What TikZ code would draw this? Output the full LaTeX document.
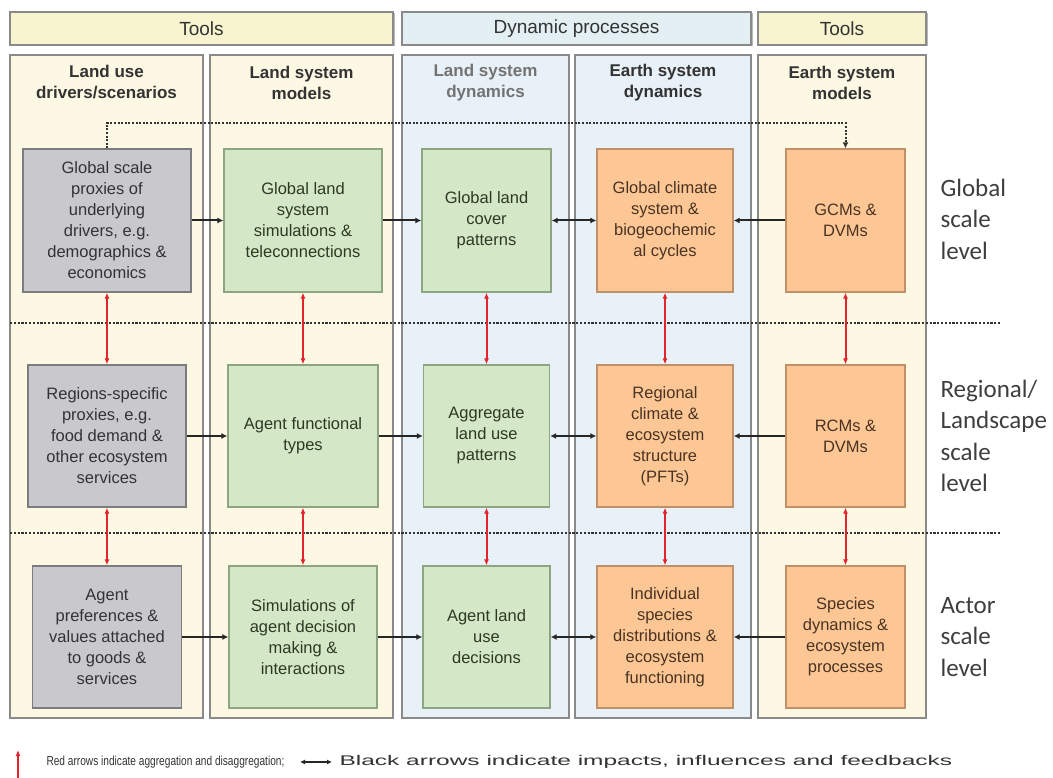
\documentclass[tikz,border=0pt]{standalone}
\usepackage{fontspec}
\setmainfont{Liberation Sans}
\newfontfamily\lvlfont{Carlito}
\newfontfamily\legfontA[FakeStretch=0.78]{Liberation Sans}
\newfontfamily\legfontB[FakeStretch=1.75]{Liberation Sans}
\usetikzlibrary{arrows.meta}

\definecolor{hdrY}{HTML}{F8F4CF}
\definecolor{panY}{HTML}{FDF8E3}
\definecolor{hdrB}{HTML}{E3EFF3}
\definecolor{panB}{HTML}{E8F1F8}
\definecolor{frameC}{HTML}{8A8A8A}
\definecolor{shadowC}{HTML}{B8B8B8}
\definecolor{grayF}{HTML}{C9C9CD}
\definecolor{grayD}{HTML}{7C7C80}
\definecolor{greenF}{HTML}{D4E7C6}
\definecolor{greenD}{HTML}{8DA681}
\definecolor{orangeF}{HTML}{FDC795}
\definecolor{orangeD}{HTML}{C09168}
\definecolor{redA}{HTML}{E2242C}
\definecolor{txtC}{HTML}{333333}
\definecolor{txtG}{HTML}{2C3A24}
\definecolor{txtO}{HTML}{4A3322}
\definecolor{lvlC}{HTML}{3E3E3E}

\tikzset{
  hdr/.style={draw=frameC, line width=1.4pt, font=\fontsize{19}{22}\selectfont, text=txtC},
  panel/.style={draw=frameC, line width=1.4pt},
  colhead/.style={align=center, font=\bfseries\fontsize{17}{21}\selectfont, text=txtC},
  cell/.style={draw, line width=1.3pt, align=center, inner sep=2pt,
    font=\fontsize{16.5}{21}\selectfont},
  grey/.style={cell, fill=grayF, draw=grayD, text=txtC},
  green/.style={cell, fill=greenF, draw=greenD, text=txtG},
  orange/.style={cell, fill=orangeF, draw=orangeD, text=txtO},
  sepline/.style={line width=2.2pt, draw=black!80, dash pattern=on 2.2pt off 1.6pt},
  topdot/.style={line width=2pt, draw=black!80, dash pattern=on 2pt off 1.6pt,
    -{Latex[length=6pt,width=6pt]}},
  blk/.style={line width=2pt, draw=black!85, -{Latex[length=6pt,width=6pt]}},
  blk2/.style={line width=2pt, draw=black!85, {Latex[length=6pt,width=6pt]}-{Latex[length=6pt,width=6pt]}},
  red2/.style={line width=2pt, draw=redA, {Latex[length=6pt,width=5pt]}-{Latex[length=6pt,width=5pt]}},
  lvl/.style={anchor=west, align=left, text=lvlC, font=\lvlfont\fontsize{25}{31.5}\selectfont},
  legendA/.style={anchor=west, text=txtC, font=\legfontA\fontsize{13}{15}\selectfont},
  legendB/.style={anchor=west, text=txtC, font=\legfontB\fontsize{14}{16}\selectfont},
}

\begin{document}
\begin{tikzpicture}[x=1pt, y=-1pt]
\useasboundingbox (0,0) rectangle (1053,778);

% group headers
\foreach \xa/\xb/\col in {10/393/hdrY, 402/751/hdrB, 758/926/hdrY}
  \fill[shadowC] (\xa+1.5,13.5) rectangle (\xb+1.5,46.5);
\node[hdr, fill=hdrY, minimum width=383pt, minimum height=33pt] (h1) at (201.5,28.5) {Tools};
\node[hdr, fill=hdrB, minimum width=349pt, minimum height=33pt] (h2) at (576.5,28.5) {Dynamic processes};
\node[hdr, fill=hdrY, minimum width=168pt, minimum height=33pt] (h3) at (842,28.5) {Tools};

% column panels
\draw[panel, fill=panY] (10,55) rectangle (203,718);
\draw[panel, fill=panY] (210,55) rectangle (393,718);
\draw[panel, fill=panB] (402,55) rectangle (569,718);
\draw[panel, fill=panB] (575,55) rectangle (751,718);
\draw[panel, fill=panY] (758,55) rectangle (926,718);

% column titles
\node[colhead] (c1) at (106.5,82.5) {Land use\\drivers/scenarios};
\node[colhead] (c2) at (301.5,82.5) {Land system\\models};
\node[colhead, text=black!55] (c3) at (485.5,82.5) {Land system\\dynamics};
\node[colhead] (c4) at (663,82.5) {Earth system\\dynamics};
\node[colhead] (c5) at (842,82.5) {Earth system\\models};

% scale separators
\coordinate (s1a) at (10,323); \coordinate (s1b) at (1000,323);
\coordinate (s2a) at (10,533); \coordinate (s2b) at (1000,533);
\draw[sepline] (s1a) -- (s1b);
\draw[sepline] (s2a) -- (s2b);

% global row
\node[grey, minimum width=168pt, minimum height=143pt] (b11) at (107,220.5)
  {Global scale\\proxies of\\underlying\\drivers, e.g.\\demographics \&\\economics};
\node[green, minimum width=158pt, minimum height=143pt] (b12) at (303,220.5)
  {Global land\\system\\simulations \&\\teleconnections};
\node[green, minimum width=129pt, minimum height=143pt] (b13) at (486.5,220.5)
  {Global land\\cover\\patterns};
\node[orange, minimum width=136pt, minimum height=143pt] (b14) at (665,220.5)
  {Global climate\\system \&\\biogeochemic\\al cycles};
\node[orange, minimum width=119pt, minimum height=143pt] (b15) at (845.5,220.5)
  {GCMs \&\\DVMs};

% regional row
\node[grey, minimum width=158pt, minimum height=142pt] (b21) at (107,436)
  {Regions-specific\\proxies, e.g.\\food demand \&\\other ecosystem\\services};
\node[green, minimum width=150pt, minimum height=142pt] (b22) at (303,436)
  {Agent functional\\types};
\node[green, minimum width=126pt, minimum height=142pt] (b23) at (486.5,436)
  {Aggregate\\land use\\patterns};
\node[orange, minimum width=136pt, minimum height=142pt] (b24) at (665,436)
  {Regional\\climate \&\\ecosystem\\structure\\(PFTs)};
\node[orange, minimum width=119pt, minimum height=142pt] (b25) at (845.5,436)
  {RCMs \&\\DVMs};

% actor row
\node[grey, minimum width=149pt, minimum height=142pt] (b31) at (107,637)
  {Agent\\preferences \&\\values attached\\to goods \&\\services};
\node[green, minimum width=148pt, minimum height=142pt] (b32) at (303,637)
  {Simulations of\\agent decision\\making \&\\interactions};
\node[green, minimum width=127pt, minimum height=142pt] (b33) at (486.5,637)
  {Agent land\\use\\decisions};
\node[orange, minimum width=136pt, minimum height=142pt] (b34) at (665,637)
  {Individual\\species\\distributions \&\\ecosystem\\functioning};
\node[orange, minimum width=119pt, minimum height=142pt] (b35) at (845.5,637)
  {Species\\dynamics \&\\ecosystem\\processes};

% scale level labels
\node[lvl] (l1) at (937,219) {Global\\scale\\level};
\node[lvl] (l2) at (937,436) {Regional/\\Landscape\\scale\\level};
\node[lvl] (l3) at (937,637) {Actor\\scale\\level};

% driver link to the earth system models
\coordinate (tp) at (845.5,123);
\draw[topdot] (b11.north) |- (tp) -- (b15.north);

% impacts, influences and feedbacks
\foreach \r in {1,2,3} {
  \draw[blk] (b\r1.east) -- (b\r2.west);
  \draw[blk] (b\r2.east) -- (b\r3.west);
  \draw[blk2] (b\r3.east) -- (b\r4.west);
  \draw[blk] (b\r5.west) -- (b\r4.east);
}

% aggregation and disaggregation
\foreach \c in {1,...,5} {
  \draw[red2] (b1\c.south) -- (b1\c.south |- b2\c.north);
  \draw[red2] (b2\c.south) -- (b2\c.south |- b3\c.north);
}

% legend
\coordinate (la) at (18,779); \coordinate (lb) at (18,750);
\draw[line width=2pt, draw=redA, -{Latex[length=6pt,width=5pt]}] (la) -- (lb);
\node[legendA] (t1) at (43,762) {Red arrows indicate aggregation and disaggregation;};
\coordinate (ka) at (300,762); \coordinate (kb) at (332,762);
\draw[line width=1.6pt, draw=black!85, {Latex[length=5pt,width=5pt]}-{Latex[length=5pt,width=5pt]}] (ka) -- (kb);
\node[legendB] (t2) at (336,762) {Black arrows indicate impacts, influences and feedbacks};
\end{tikzpicture}
\end{document}
